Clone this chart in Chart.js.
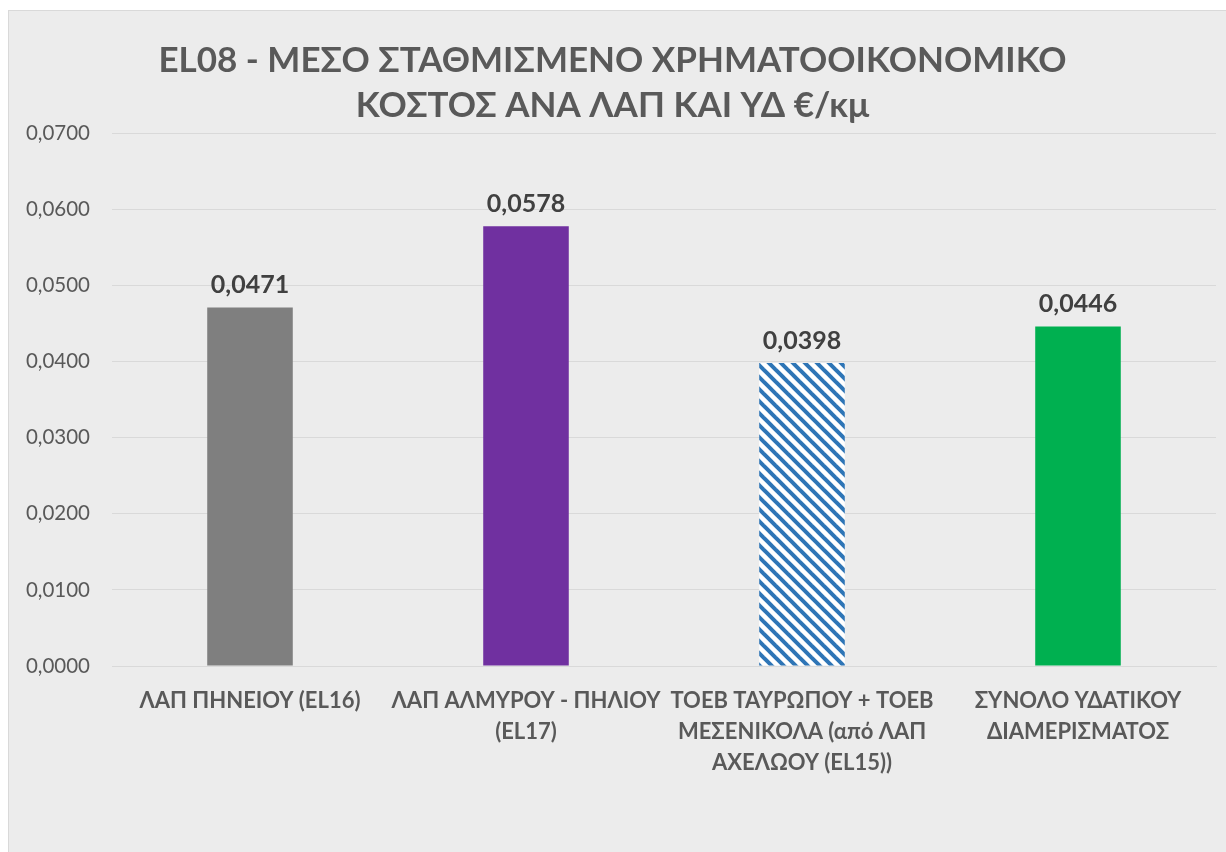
<!DOCTYPE html>
<html>
<head>
<meta charset="utf-8">
<script src="https://cdn.jsdelivr.net/npm/chart.js@4.4.1/dist/chart.umd.min.js"></script>
<style>
  html, body { margin: 0; padding: 0; background: #ffffff; }
  .wrapper {
    position: absolute;
    left: 8px;
    top: 10px;
    width: 1218px;
    height: 842px;
    background: #ececec;
    border-left: 1px solid #d9d9d9;
    border-top: 1px solid #d9d9d9;
    box-sizing: border-box;
  }
  canvas { display: block; }
</style>
</head>
<body>
<div class="wrapper"><canvas id="chart" width="1217" height="841"></canvas></div>
<script>
const categories = [
  ["ΛΑΠ ΠΗΝΕΙΟΥ (EL16)"],
  ["ΛΑΠ ΑΛΜΥΡΟΥ - ΠΗΛΙΟΥ", "(EL17)"],
  ["ΤΟΕΒ ΤΑΥΡΩΠΟΥ + ΤΟΕΒ", "ΜΕΣΕΝΙΚΟΛΑ (από ΛΑΠ", "ΑΧΕΛΩΟΥ (EL15))"],
  ["ΣΥΝΟΛΟ ΥΔΑΤΙΚΟΥ", "ΔΙΑΜΕΡΙΣΜΑΤΟΣ"],
];
const values = [0.0471, 0.0578, 0.0398, 0.0446];
const yTicks = [0, 0.01, 0.02, 0.03, 0.04, 0.05, 0.06, 0.07];
const title_lines = ["EL08 - ΜΕΣΟ ΣΤΑΘΜΙΣΜΕΝΟ ΧΡΗΜΑΤΟΟΙΚΟΝΟΜΙΚΟ", "ΚΟΣΤΟΣ ΑΝΑ ΛΑΠ ΚΑΙ ΥΔ €/κμ"];

const font_family = "Lato, 'Open Sans', sans-serif";
const text_color = "#595959";

function fmt(v) {
  return v.toFixed(4).replace(".", ",");
}

// diagonal stripes for the third bar
function makeHatch() {
  const size = 12;
  const c = document.createElement("canvas");
  c.width = size;
  c.height = size;
  const g = c.getContext("2d");
  g.fillStyle = "#ffffff";
  g.fillRect(0, 0, size, size);
  g.strokeStyle = "#2e75b6";
  g.lineWidth = 4;
  for (let k = -1; k <= 1; k++) {
    g.beginPath();
    g.moveTo(k * size - 2, -2);
    g.lineTo(k * size + size + 2, size + 2);
    g.stroke();
  }
  return g.createPattern(c, "repeat");
}

const valueLabels = {
  id: "valueLabels",
  afterDatasetsDraw(chart) {
    const ctx = chart.ctx;
    const meta = chart.getDatasetMeta(0);
    ctx.save();
    ctx.font = "bold 25px " + font_family;
    ctx.fillStyle = "#404040";
    ctx.textAlign = "center";
    ctx.textBaseline = "bottom";
    meta.data.forEach((bar, i) => {
      ctx.fillText(fmt(values[i]), bar.x, bar.y - 10);
    });
    ctx.restore();
  },
};

new Chart(document.getElementById("chart"), {
  type: "bar",
  data: {
    labels: categories,
    datasets: [
      {
        data: values,
        backgroundColor: ["#7f7f7f", "#7030a0", makeHatch(), "#00b050"],
        borderWidth: 0,
        barPercentage: 0.31,
        categoryPercentage: 1,
      },
    ],
  },
  options: {
    responsive: false,
    animation: false,
    layout: {
      padding: { left: 0, right: 10, top: 0, bottom: 0 },
    },
    plugins: {
      legend: { display: false },
      tooltip: { enabled: false },
      title: {
        display: true,
        text: title_lines,
        color: text_color,
        font: { family: font_family, size: 35, weight: "bold", lineHeight: 1.29 },
        padding: { top: 27, bottom: 5 },
      },
    },
    scales: {
      x: {
        grid: { display: false, drawTicks: false },
        border: { color: "#d9d9d9" },
        ticks: {
          color: text_color,
          padding: 19,
          maxRotation: 0,
          autoSkip: false,
          font: { family: font_family, size: 22, weight: "bold", lineHeight: 1.41 },
        },
        afterFit: (scale) => {
          scale.height = 186;
        },
      },
      y: {
        min: 0,
        max: 0.07,
        grid: { color: "#d9d9d9", drawTicks: false },
        border: { display: false },
        afterBuildTicks: (scale) => {
          scale.ticks = yTicks.map((v) => ({ value: v }));
        },
        ticks: {
          color: text_color,
          padding: 22,
          font: { family: font_family, size: 20.5 },
          callback: (v) => fmt(v),
        },
        afterFit: (scale) => {
          scale.width = 103;
        },
      },
    },
  },
  plugins: [valueLabels],
});
</script>
</body>
</html>
